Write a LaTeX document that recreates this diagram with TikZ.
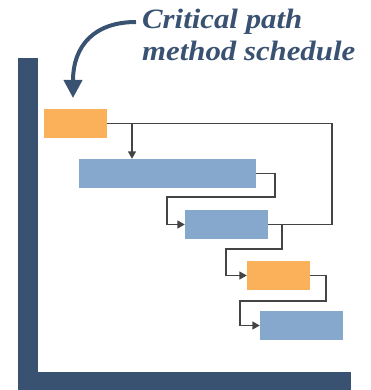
\documentclass[tikz,border=0pt]{standalone}
\usepackage{fontspec}
\newfontfamily\titlefont{Liberation Serif}
\usetikzlibrary{arrows.meta}
\definecolor{navy}{HTML}{3A5272}
\definecolor{barorange}{HTML}{FBB05A}
\definecolor{barblue}{HTML}{85A8CC}
\definecolor{conn}{HTML}{444444}
\tikzset{
  bar/.style={draw=none, inner sep=0pt, minimum height=29pt},
  crit/.style={bar, fill=barorange},
  task/.style={bar, fill=barblue},
  link/.style={draw=conn, line width=1.5pt},
  arr/.style={link, -{Triangle[width=8pt,length=7.5pt]}},
}
\begin{document}
\begin{tikzpicture}[x=1pt,y=-1pt]
\useasboundingbox (0,0) rectangle (371,390);
% axes
\fill[navy] (18,58) rectangle (38,390);
\fill[navy] (18,372) rectangle (351,390);
% bars
\node[crit, minimum width=63pt] (o1) at (75.5,123.5) {};
\node[task, minimum width=177pt] (b1) at (167.5,173.5) {};
\node[task, minimum width=83pt] (b2) at (226.5,224.5) {};
\node[crit, minimum width=63pt] (o2) at (278.5,275.5) {};
\node[task, minimum width=83pt] (b3) at (301.5,325.5) {};
% helper coordinates
\coordinate (c1) at (332,0);
\coordinate (k1) at (132,0);
\coordinate (k2) at (275,197);
\coordinate (k3) at (167,197);
\coordinate (k4) at (282,249);
\coordinate (k5) at (226,249);
\coordinate (k6) at (326,301);
\coordinate (k7) at (240,301);
% connectors
\draw[link] (o1.east) -- (o1.east -| c1) -- (b2.east -| c1) -- (b2.east);
\draw[arr] (o1.east -| k1) -- (b1.north -| k1);
\draw[arr] (b1.east) -| (k2) -- (k3) |- (b2.west);
\draw[arr] (b2.east -| k4) -- (k4) -- (k5) |- (o2.west);
\draw[arr] (o2.east) -| (k6) -- (k7) |- (b3.west);
% title
\node[anchor=base west, inner sep=0pt, align=left, text=navy,
      font=\titlefont\bfseries\itshape\fontsize{28}{32}\selectfont] (t) at (142,61)
  {\scalebox{1.1}[1]{Critical path}\\\scalebox{1.1}[1]{method schedule}};
\coordinate (tip) at (73,98);
\draw[navy, line width=4pt, -{Triangle[width=18pt,length=18pt]}]
  (136,22) .. controls (95,22) and (73,45) .. (tip);
\end{tikzpicture}
\end{document}
